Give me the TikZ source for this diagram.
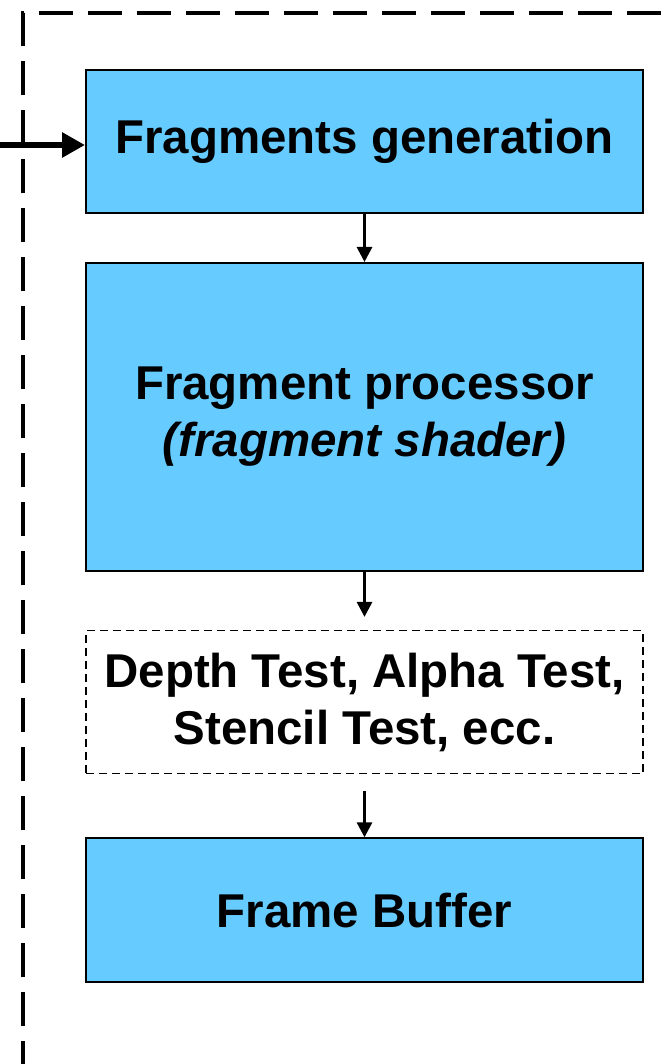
\documentclass[tikz,border=0pt]{standalone}
\usepackage{fontspec}
\setmainfont{Liberation Sans}
\usepackage{tikz}
\usetikzlibrary{arrows.meta,positioning}

\definecolor{stageblue}{HTML}{66CCFF}

\begin{document}
\begin{tikzpicture}[stage/.style={draw,line width=1.1pt,fill=stageblue,minimum width=11.14cm,minimum height=2.86cm,align=center,font=\fontsize{27}{32.5}\selectfont\bfseries},testbox/.style={stage,fill=none,line width=0.8pt,dash pattern=on 0.16cm off 0.1cm},flow/.style={line width=1.7pt,-{Triangle[length=0.3cm,width=0.3cm]}},inflow/.style={line width=3.8pt,-{Triangle[length=0.46cm,width=0.48cm]}},frame/.style={line width=2.4pt,dash pattern=on 0.68cm off 0.3cm}]
	\useasboundingbox (0,0) rectangle (13.42,-21.28);
	\node[stage] (gen) at (7.29,-2.83) {Fragments generation};
	\node[stage,minimum height=6.16cm,below=0.96cm of gen] (proc) {Fragment processor\\ \textit{(fragment shader)}};
	\node[testbox,below=1.16cm of proc] (tests) {Depth Test, Alpha Test,\\ Stencil Test, ecc.};
	\node[stage,minimum height=2.88cm,below=1.26cm of tests] (fb) {Frame Buffer};
	% outer frame
	\coordinate (fb0) at (0.46,-21.5);
	\coordinate (fc) at (0.46,-0.26);
	\coordinate (fr) at (13.6,-0.26);
	\draw[frame] (fb0) -- (fc) -- (fr);
	% input
	\coordinate (in) at (0,-2.9);
	\draw[inflow] (in) -- (in -| gen.west);
	\draw[flow] (gen) -- (proc);
	\draw[flow,shorten >=0.26cm] (proc) -- (tests);
	\draw[flow,shorten <=0.34cm] (tests) -- (fb);
\end{tikzpicture}
\end{document}
